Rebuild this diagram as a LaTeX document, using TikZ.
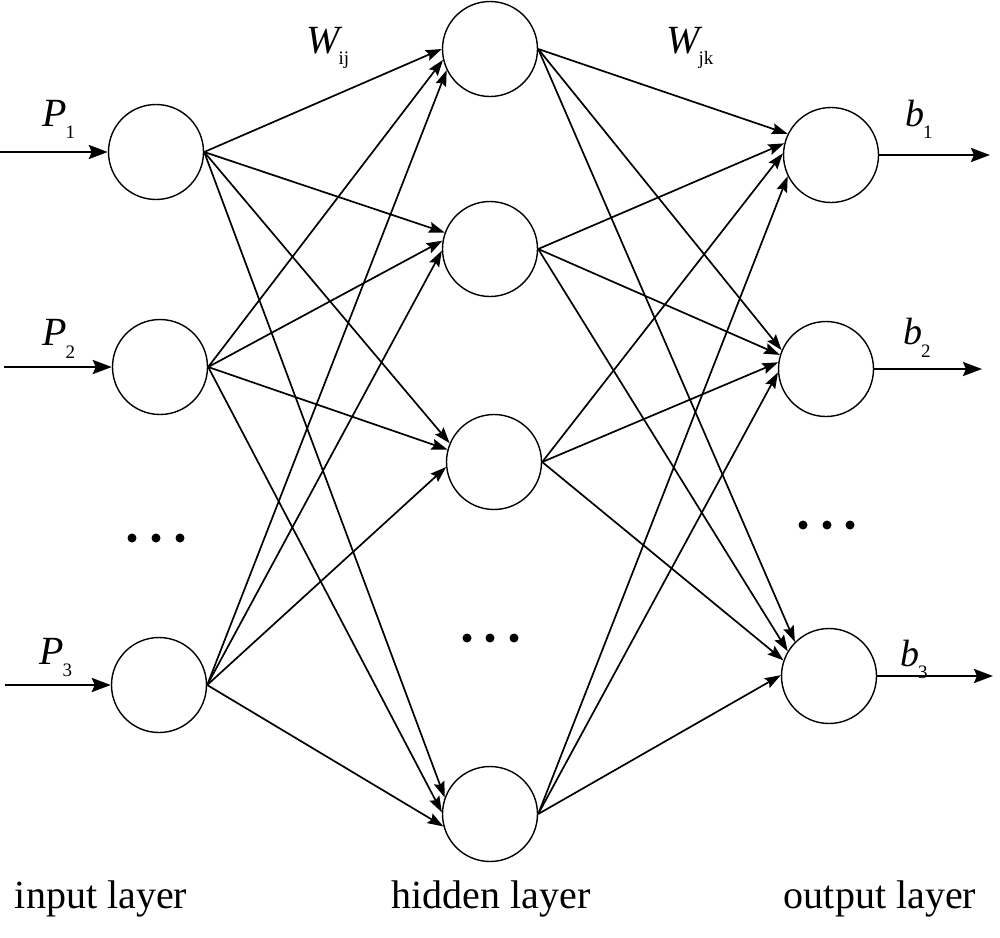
\documentclass[tikz,border=0pt]{standalone}
\usepackage{fontspec}
\setmainfont{Liberation Serif}
\usetikzlibrary{arrows.meta}
\newcommand{\sublab}[4]{{\fontsize{#3}{#3}\selectfont\itshape #1}\hspace{-1pt}\raisebox{#4}{\fontsize{19}{19}\selectfont\upshape #2}}
\begin{document}
\begin{tikzpicture}[x=1pt,y=-1pt,
  neuron/.style={circle,draw,line width=1.4pt,minimum size=95pt,inner sep=0pt},
  conn/.style={line width=1.7pt,-{Stealth[length=16pt,width=11pt,inset=2.5pt]}},
  ioarrow/.style={line width=2.6pt,-{Stealth[length=19pt,width=14pt,inset=3pt]}},
  layerlab/.style={anchor=base,inner sep=0pt,font=\fontsize{40}{48}\selectfont},
  sym/.style={anchor=base west,inner sep=0pt},
  dot/.style={circle,fill,inner sep=0pt,minimum size=9pt}]
\useasboundingbox (0,0) rectangle (1000,937);
% input layer
\node[neuron] (I1) at (156,152) {};
\node[neuron] (I2) at (160,367) {};
\node[neuron] (I3) at (159,685) {};
% hidden layer
\node[neuron] (H1) at (490,49) {};
\node[neuron] (H2) at (490,249) {};
\node[neuron] (H3) at (494,462) {};
\node[neuron] (H4) at (490,814) {};
% output layer
\node[neuron] (O1) at (831,155) {};
\node[neuron] (O2) at (826,369) {};
\node[neuron] (O3) at (829,676) {};
% dots
\node[dot] (d1) at (132,538) {}; \node[dot] (d2) at (156,538) {}; \node[dot] (d3) at (180,538) {};
\node[dot] (d4) at (467,638) {}; \node[dot] (d5) at (490,638) {}; \node[dot] (d6) at (514,638) {};
\node[dot] (d7) at (803,525) {}; \node[dot] (d8) at (827,525) {}; \node[dot] (d9) at (850,525) {};
% input -> hidden
\foreach \s/\t/\a in {I1/H1/180,I2/H1/193,I3/H1/206,
                      I1/H2/160,I2/H2/170,I3/H2/182,
                      I1/H3/157,I2/H3/165,I3/H3/186,
                      I1/H4/160,I2/H4/178,I3/H4/195}
  \draw[conn] (\s.east) -- (\t.\a);
% hidden -> output
\foreach \s/\t/\a in {H1/O1/154,H2/O1/166,H3/O1/178,H4/O1/206,
                      H1/O2/157,H2/O2/163,H3/O2/172,H4/O2/184,
                      H1/O3/135,H2/O3/149,H3/O3/161,H4/O3/179}
  \draw[conn] (\s.east) -- (\t.\a);
% inputs and outputs
\coordinate (p1) at (0,152);
\coordinate (p2) at (4,367);
\coordinate (p3) at (5,685);
\coordinate (q1) at (990,155);
\coordinate (q2) at (982,369);
\coordinate (q3) at (993,676);
\draw[ioarrow] (p1) -- (I1.west);
\draw[ioarrow] (p2) -- (I2.west);
\draw[ioarrow] (p3) -- (I3.west);
\draw[ioarrow] (O1.east) -- (q1);
\draw[ioarrow] (O2.east) -- (q2);
\draw[ioarrow] (O3.east) -- (q3);
% labels
\node[sym] (lP1) at (42,126) {\sublab{P}{1}{40}{-12pt}};
\node[sym] (lP2) at (42,345) {\sublab{P}{2}{40}{-13pt}};
\node[sym] (lP3) at (39,664) {\sublab{P}{3}{40}{-12pt}};
\node[sym] (lb1) at (905,126) {\sublab{b}{1}{38}{-12pt}};
\node[sym] (lb2) at (903,344) {\sublab{b}{2}{38}{-13pt}};
\node[sym] (lb3) at (900,666) {\sublab{b}{3}{38}{-12pt}};
\node[sym] (lW1) at (306,53) {\sublab{W}{ij}{40}{-11pt}};
\node[sym] (lW2) at (666,53) {\sublab{W}{jk}{40}{-11pt}};
\node[layerlab] (L1) at (101,908) {input layer};
\node[layerlab] (L2) at (491,908) {hidden layer};
\node[layerlab] (L3) at (880,908) {output layer};
\end{tikzpicture}
\end{document}
